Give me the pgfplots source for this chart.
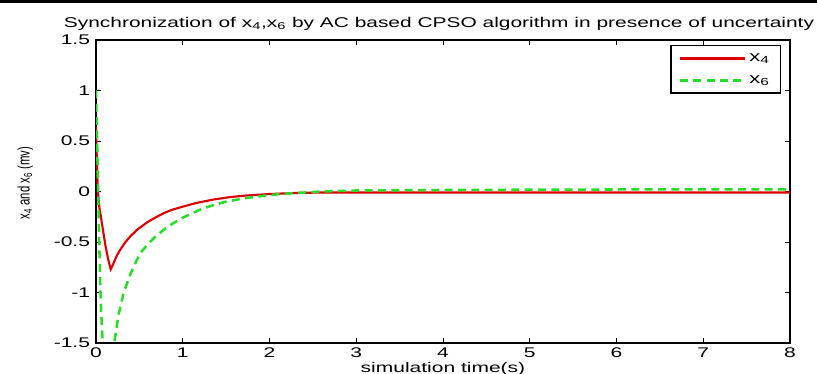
\documentclass[border=0pt]{standalone}
\usepackage{fontspec}
\setmainfont{Liberation Sans}[FakeStretch=1.5]
\newfontfamily\titlefont{Liberation Sans}[FakeStretch=1.48]
\newfontfamily\ylabfont{Liberation Sans}[FakeStretch=0.68]
\usepackage{pgfplots}
\pgfplotsset{compat=1.18}
\definecolor{mred}{RGB}{220,0,0}
\definecolor{mgreen}{RGB}{40,220,40}
\begin{document}
\begin{tikzpicture}
\path[use as bounding box] (0,0) rectangle (612.75pt,280.5pt);
\fill[black] (0,278.25pt) rectangle (612.75pt,280.5pt);
\begin{axis}[
  at={(72pt,23.25pt)}, anchor=south west,
  scale only axis, width=520.5pt, height=227.25pt,
  xmin=0, xmax=8, ymin=-1.5, ymax=1.5,
  xtick={0,1,...,8}, ytick={-1.5,-1,-0.5,0,0.5,1,1.5},
  xtick pos=both, ytick pos=both, tick align=inside,
  major tick length=3.75pt,
  axis line style={line width=1pt},
  tick style={black, line width=0.7pt},
  /pgf/number format/assume math mode=true,
  tick label style={font=\fontsize{10.5}{12}\selectfont},
  yticklabel style={xshift=-1pt},
  title={Synchronization of x\textsubscript{4},x\textsubscript{6} by AC based CPSO algorithm in presence of uncertainty},
  title style={font=\titlefont\fontsize{10.6}{12}\selectfont, yshift=-2.5pt, xshift=-3pt},
  xlabel={simulation time(s)},
  xlabel style={font=\fontsize{10.5}{12}\selectfont, yshift=3.5pt},
  ylabel={x\textsubscript{4} and x\textsubscript{6} (mv)},
  ylabel style={font=\ylabfont\fontsize{12.5}{12}\selectfont, at={(axis description cs:-0.102,0.528)}, anchor=center},
  legend style={at={(0.987,0.9835)}, anchor=north east, draw=black, line width=1pt,
    font=\fontsize{11}{12}\selectfont, inner xsep=6pt, inner ysep=4pt, row sep=5pt},
  legend cell align=left,
  legend image code/.code={\draw[#1] (0pt,0pt) -- (49pt,0pt);},
]
\addplot[mred, line width=1.6pt] coordinates {
(0,0.64) (0.01,0.3) (0.02,0.02) (0.04,-0.17) (0.057,-0.25) (0.08,-0.38) (0.11,-0.54) (0.14,-0.67) (0.17,-0.77)
(0.19,-0.735) (0.21,-0.695) (0.23,-0.655) (0.25,-0.62) (0.27,-0.59) (0.3,-0.55) (0.34,-0.50) (0.40,-0.44) (0.48,-0.375) (0.59,-0.305)
(0.68,-0.26) (0.78,-0.215) (0.88,-0.18) (1.0,-0.15) (1.15,-0.115) (1.35,-0.08) (1.55,-0.055) (1.73,-0.04)
(2.0,-0.025) (2.3,-0.015) (2.6,-0.01) (3,-0.01) (4,-0.01) (5,-0.01) (6,-0.01) (7,-0.01) (8,-0.01)
};
\addlegendentry{x\textsubscript{4}}
\addplot[mgreen, line width=1.9pt, dash pattern=on 6pt off 4pt] coordinates {
(0,1.0) (0.01,0.6) (0.02,0.2) (0.03,-0.2) (0.04,-0.6) (0.05,-0.95) (0.06,-1.2) (0.08,-1.55) (0.12,-1.75)
(0.17,-1.6) (0.21,-1.5) (0.26,-1.22) (0.32,-1.0) (0.4,-0.81) (0.475,-0.67) (0.53,-0.59) (0.59,-0.53) (0.68,-0.45)
(0.78,-0.38) (0.88,-0.32) (1.0,-0.26) (1.2,-0.18) (1.35,-0.135) (1.5,-0.10) (1.73,-0.065) (2.0,-0.035)
(2.3,-0.015) (2.6,0.0) (3,0.01) (4,0.015) (5,0.018) (6,0.02) (7,0.02) (8,0.02)
};
\addlegendentry{x\textsubscript{6}}
\end{axis}
\end{tikzpicture}
\end{document}
